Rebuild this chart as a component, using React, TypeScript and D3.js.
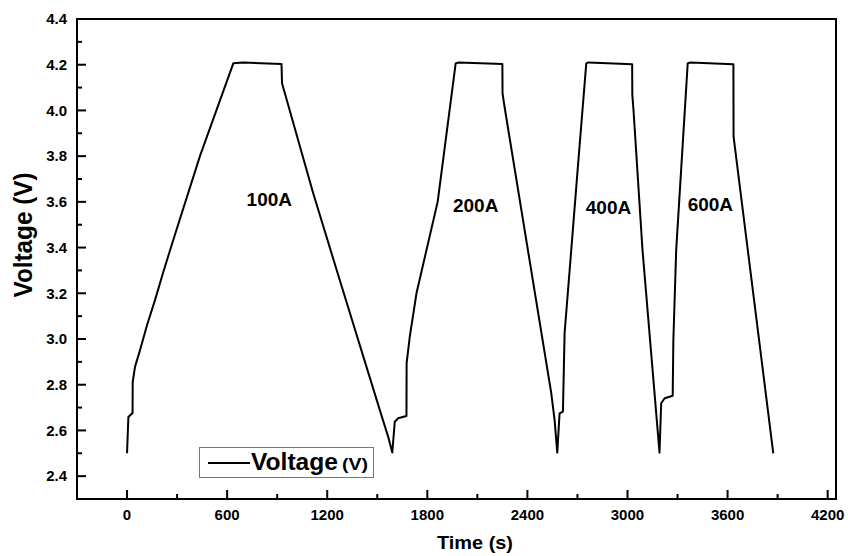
import * as d3 from "d3"
import { useEffect, useRef } from "react"

// voltage vs time
const timeS = [
  0, 8, 33, 34, 48, 78, 120, 168, 216, 277, 437, 637, 695, 926, 929, 952, 1116, 1275, 1435, 1515, 1565, 1590,
  1605, 1625, 1675, 1676, 1695, 1735, 1862, 1970, 1988, 2250, 2251, 2263, 2543, 2563, 2579,
  2593, 2613, 2617, 2623, 2663, 2701, 2753, 2766, 3028, 3029, 3036, 3090, 3192,
  3202, 3223, 3271, 3275, 3292, 3361, 3377, 3635, 3636, 3874,
]
const voltageV = [
  2.5, 2.659, 2.676, 2.812, 2.879, 2.952, 3.061, 3.171, 3.29, 3.433, 3.8, 4.206, 4.21, 4.203, 4.119, 4.06, 3.638, 3.258, 2.879, 2.69, 2.573, 2.503,
  2.638, 2.653, 2.663, 2.894, 3.01, 3.2, 3.6, 4.206, 4.21, 4.203, 4.075, 4.016, 2.763, 2.646, 2.503,
  2.675, 2.682, 2.821, 3.026, 3.39, 3.739, 4.206, 4.21, 4.202, 4.068, 4.002, 3.39, 2.503,
  2.719, 2.741, 2.752, 2.996, 3.39, 4.206, 4.21, 4.202, 3.885, 2.5,
]

const xMajor = [0, 600, 1200, 1800, 2400, 3000, 3600, 4200]
const xMinor = [300, 900, 1500, 2100, 2700, 3300, 3900]
const yMajor = [2.4, 2.6, 2.8, 3.0, 3.2, 3.4, 3.6, 3.8, 4.0, 4.2, 4.4]
const yMinor = [2.5, 2.7, 2.9, 3.1, 3.3, 3.5, 3.7, 3.9, 4.1, 4.3]

const cycleLabels = ["100A", "200A", "400A", "600A"]
const labelTime = [853, 2090, 2886, 3497]
const labelVolt = [3.61, 3.584, 3.578, 3.591]

const W = 848
const H = 556
const margin = { left: 77, right: 12, top: 19, bottom: 57 }
const font = "Arial, 'Liberation Sans', sans-serif"

function App() {
  const ref = useRef(null)

  useEffect(() => {
    const svg = d3.select(ref.current)
    svg.selectAll("*").remove()

    const x = d3.scaleLinear().domain([-300, 4250]).range([margin.left, W - margin.right])
    const y = d3.scaleLinear().domain([2.3, 4.4]).range([H - margin.bottom, margin.top])
    const x0 = margin.left, x1 = W - margin.right
    const y0 = H - margin.bottom, y1 = margin.top

    // ticks (inward)
    const ticks = svg.append("g").attr("stroke", "#000").attr("stroke-width", 2)
    xMajor.forEach(v => ticks.append("line").attr("x1", x(v)).attr("x2", x(v)).attr("y1", y0).attr("y2", y0 - 9))
    xMinor.forEach(v => ticks.append("line").attr("x1", x(v)).attr("x2", x(v)).attr("y1", y0).attr("y2", y0 - 5))
    yMajor.forEach(v => ticks.append("line").attr("x1", x0).attr("x2", x0 + 9).attr("y1", y(v)).attr("y2", y(v)))
    yMinor.forEach(v => ticks.append("line").attr("x1", x0).attr("x2", x0 + 5).attr("y1", y(v)).attr("y2", y(v)))

    // frame
    svg.append("rect")
      .attr("x", x0).attr("y", y1).attr("width", x1 - x0).attr("height", y0 - y1)
      .attr("fill", "none").attr("stroke", "#000").attr("stroke-width", 2)

    // tick labels
    svg.append("g").selectAll("text").data(xMajor).enter().append("text")
      .attr("x", d => x(d)).attr("y", y0 + 21)
      .attr("text-anchor", "middle")
      .style("font", `bold 15px ${font}`)
      .text(d => d)
    svg.append("g").selectAll("text").data(yMajor).enter().append("text")
      .attr("x", x0 - 10).attr("y", d => y(d)).attr("dy", "0.35em")
      .attr("text-anchor", "end")
      .style("font", `bold 15px ${font}`)
      .text(d => d.toFixed(1))

    // axis titles
    svg.append("text")
      .attr("x", 475).attr("y", 549)
      .attr("text-anchor", "middle")
      .attr("textLength", 76).attr("lengthAdjust", "spacingAndGlyphs")
      .style("font", `bold 18px ${font}`)
      .text("Time (s)")
    svg.append("text")
      .attr("transform", "translate(32,235) rotate(-90)")
      .attr("text-anchor", "middle")
      .attr("textLength", 125).attr("lengthAdjust", "spacingAndGlyphs")
      .style("font", `bold 26px ${font}`)
      .text("Voltage (V)")

    // curve
    const line = d3.line().x(i => x(timeS[i])).y(i => y(voltageV[i]))
    svg.append("path")
      .attr("d", line(d3.range(timeS.length)))
      .attr("fill", "none").attr("stroke", "#000").attr("stroke-width", 2)
      .attr("stroke-linejoin", "round")

    // cycle labels
    svg.append("g").selectAll("text").data(cycleLabels).enter().append("text")
      .attr("x", (d, i) => x(labelTime[i])).attr("y", (d, i) => y(labelVolt[i])).attr("dy", "0.35em")
      .attr("text-anchor", "middle")
      .style("font", `bold 19px ${font}`)
      .text(d => d)

    // legend
    const lg = svg.append("g")
    lg.append("rect").attr("x", 199.5).attr("y", 447.5).attr("width", 174).attr("height", 30)
      .attr("fill", "#fff").attr("stroke", "#777").attr("stroke-width", 1)
    lg.append("line").attr("x1", 208).attr("x2", 250).attr("y1", 463).attr("y2", 463)
      .attr("stroke", "#000").attr("stroke-width", 2)
    lg.append("text").attr("x", 251).attr("y", 470)
      .attr("textLength", 87).attr("lengthAdjust", "spacingAndGlyphs")
      .style("font", `bold 23px ${font}`).text("Voltage")
    lg.append("text").attr("x", 342).attr("y", 470)
      .attr("textLength", 26).attr("lengthAdjust", "spacingAndGlyphs")
      .style("font", `bold 16px ${font}`).text("(V)")
  }, [])

  return (
    <svg ref={ref} width={W} height={H} style={{ position: "absolute", left: 0, top: 0, background: "#fff" }} />
  )
}

export default App
